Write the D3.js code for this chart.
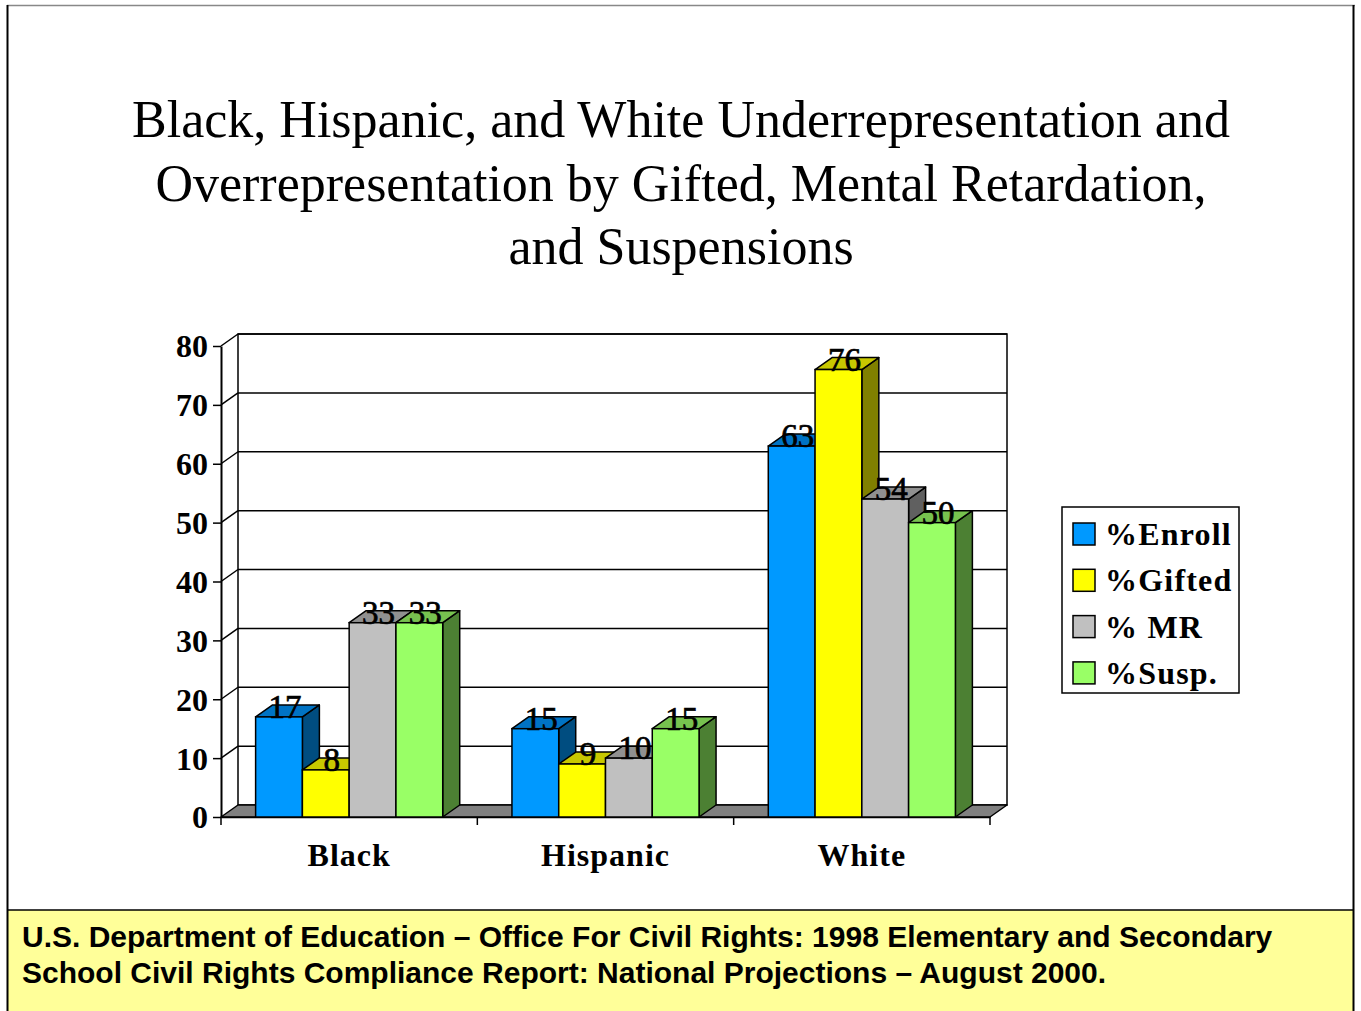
<!DOCTYPE html>
<html>
<head>
<meta charset="utf-8">
<script src="https://cdn.jsdelivr.net/npm/d3@7"></script>
<style>
  html, body { margin: 0; padding: 0; background: #fff; }
  svg { display: block; }
</style>
</head>
<body>
<svg id="chart" width="1361" height="1011"></svg>
<script>
// ---- data ----
const categories = ["Black", "Hispanic", "White"];
const series = ["%Enroll", "%Gifted", "% MR", "%Susp."];
const enroll = [17, 15, 63];
const gifted = [8, 9, 76];
const mr = [33, 10, 54];
const susp = [33, 15, 50];
const yTicks = [0, 10, 20, 30, 40, 50, 60, 70, 80];
const titleLines = [
  "Black, Hispanic, and White Underrepresentation and",
  "Overrepresentation by Gifted, Mental Retardation,",
  "and Suspensions"
];
const sourceLines = [
  "U.S. Department of Education \u2013 Office For Civil Rights: 1998 Elementary and Secondary",
  "School Civil Rights Compliance Report: National Projections \u2013 August 2000."
];

const seriesValues = [enroll, gifted, mr, susp];
// front, top, side shades per series
const palette = [
  { front: "#0099FF", top: "#0073C4", side: "#004D80" },
  { front: "#FFFF00", top: "#C8C800", side: "#808000" },
  { front: "#C0C0C0", top: "#909090", side: "#606060" },
  { front: "#99FF66", top: "#77C24F", side: "#4C8033" }
];

const svg = d3.select("#chart");
const W = 1361, H = 1011;
const serif = "'Liberation Serif', 'Times New Roman', serif";
const sans = "'Liberation Sans', Arial, sans-serif";

// ---- slide frame ----
svg.append("rect").attr("x", 0).attr("y", 0).attr("width", W).attr("height", H).attr("fill", "#fff");
svg.append("rect").attr("x", 8).attr("y", 910).attr("width", 1346).attr("height", H - 910)
  .attr("fill", "#FFFF99");
svg.append("line").attr("x1", 8).attr("x2", 1354).attr("y1", 910).attr("y2", 910)
  .attr("stroke", "#000").attr("stroke-width", 1.5);
svg.append("line").attr("x1", 7).attr("x2", 1355).attr("y1", 5.5).attr("y2", 5.5)
  .attr("stroke", "#888").attr("stroke-width", 1.5);
svg.append("line").attr("x1", 7.5).attr("x2", 7.5).attr("y1", 5).attr("y2", H)
  .attr("stroke", "#000").attr("stroke-width", 2);
svg.append("line").attr("x1", 1353.5).attr("x2", 1353.5).attr("y1", 5).attr("y2", H)
  .attr("stroke", "#000").attr("stroke-width", 2);

// ---- title ----
svg.append("text")
  .attr("text-anchor", "middle")
  .attr("font-family", serif)
  .attr("font-size", 52)
  .attr("fill", "#000")
  .selectAll("tspan").data(titleLines).join("tspan")
  .attr("x", 681)
  .attr("y", (d, i) => 137 + i * 63.5)
  .text(d => d);

// ---- scales ----
const DX = 17, DY = -12;
const y = d3.scaleLinear().domain([0, 80]).range([817, 346]);
const x0 = d3.scaleBand().domain(categories).range([221, 990]);
const x1 = d3.scaleBand().domain(series).range([0, x0.bandwidth()])
  .paddingInner(0).paddingOuter(0.74);

const plot = svg.append("g");
const xL = x0.range()[0], xR = x0.range()[1];
const yTop = y(80), yBot = y(0);

// back wall
plot.append("rect")
  .attr("x", xL + DX).attr("y", yTop + DY)
  .attr("width", xR - xL).attr("height", yBot - yTop)
  .attr("fill", "#fff").attr("stroke", "#000").attr("stroke-width", 1.5);

// gridlines on the back wall and the slanted side-wall lines
plot.selectAll(".grid").data(yTicks.filter(t => t > 0)).join("line")
  .attr("x1", xL + DX).attr("x2", xR + DX)
  .attr("y1", d => y(d) + DY).attr("y2", d => y(d) + DY)
  .attr("stroke", "#000").attr("stroke-width", 1.5);
plot.selectAll(".side").data(yTicks.filter(t => t > 0)).join("line")
  .attr("x1", xL).attr("x2", xL + DX)
  .attr("y1", d => y(d)).attr("y2", d => y(d) + DY)
  .attr("stroke", "#000").attr("stroke-width", 1.5);

// floor
plot.append("path")
  .attr("d", `M${xL},${yBot} L${xL + DX},${yBot + DY} L${xR + DX},${yBot + DY} L${xR},${yBot} Z`)
  .attr("fill", "#808080").attr("stroke", "#000").attr("stroke-width", 1.5)
  .attr("stroke-linejoin", "round");

// y axis
const yAxis = d3.axisLeft(y).tickValues(yTicks).tickSize(8).tickSizeOuter(0).tickPadding(5);
const gy = svg.append("g").attr("transform", `translate(${xL},0)`).call(yAxis);
gy.select(".domain").attr("stroke", "#000").attr("stroke-width", 2);
gy.selectAll(".tick line").attr("stroke", "#000").attr("stroke-width", 1.5);
gy.selectAll(".tick text")
  .attr("font-family", serif).attr("font-weight", "bold").attr("font-size", 32)
  .attr("fill", "#000").attr("dy", "0.34em");

// x axis: ticks at band boundaries, labels at band centres
const boundaries = [xL].concat(categories.map(c => x0(c) + x0.bandwidth()));
svg.selectAll(".xtick").data(boundaries).join("line")
  .attr("x1", d => d).attr("x2", d => d)
  .attr("y1", yBot).attr("y2", yBot + 8)
  .attr("stroke", "#000").attr("stroke-width", 1.5);
const xAxis = d3.axisBottom(x0).tickSize(0).tickPadding(0);
const gx = svg.append("g").attr("transform", `translate(0,${yBot})`).call(xAxis);
gx.select(".domain").attr("stroke", "#000").attr("stroke-width", 1.5);
gx.selectAll(".tick text")
  .attr("font-family", serif).attr("font-weight", "bold").attr("font-size", 32)
  .attr("letter-spacing", 1)
  .attr("fill", "#000").attr("dy", 0).attr("y", 49);

// ---- bars (painted left to right so each front face hides the neighbour's side) ----
const bw = x1.bandwidth();
const barsG = svg.append("g");
categories.forEach((cat, ci) => {
  series.forEach((s, si) => {
    const v = seriesValues[si][ci];
    const bx = x0(cat) + x1(s);
    const by = y(v);
    const c = palette[si];
    const g = barsG.append("g");
    // side face
    g.append("path")
      .attr("d", `M${bx + bw},${yBot} L${bx + bw + DX},${yBot + DY} L${bx + bw + DX},${by + DY} L${bx + bw},${by} Z`)
      .attr("fill", c.side).attr("stroke", "#000").attr("stroke-width", 1.5).attr("stroke-linejoin", "round");
    // top face
    g.append("path")
      .attr("d", `M${bx},${by} L${bx + DX},${by + DY} L${bx + bw + DX},${by + DY} L${bx + bw},${by} Z`)
      .attr("fill", c.top).attr("stroke", "#000").attr("stroke-width", 1.5).attr("stroke-linejoin", "round");
    // front face
    g.append("rect")
      .attr("x", bx).attr("y", by).attr("width", bw).attr("height", yBot - by)
      .attr("fill", c.front).attr("stroke", "#000").attr("stroke-width", 1.5);
    // value label
    g.append("text")
      .attr("x", bx + bw / 2 + 6).attr("y", by + 1)
      .attr("text-anchor", "middle")
      .attr("font-family", serif).attr("font-size", 33).attr("fill", "#000")
      .attr("stroke", "#000").attr("stroke-width", 0.7)
      .text(v);
  });
});

// ---- legend ----
const legend = svg.append("g");
legend.append("rect")
  .attr("x", 1062).attr("y", 507).attr("width", 177).attr("height", 186)
  .attr("fill", "#fff").attr("stroke", "#000").attr("stroke-width", 1.5);
const items = legend.selectAll(".item").data(series).join("g")
  .attr("transform", (d, i) => `translate(1073,${523 + i * 46.3})`);
items.append("rect")
  .attr("width", 22).attr("height", 22)
  .attr("fill", (d, i) => palette[i].front)
  .attr("stroke", "#000").attr("stroke-width", 1.5);
items.append("text")
  .attr("x", 32).attr("y", 22)
  .attr("font-family", serif).attr("font-weight", "bold").attr("font-size", 32)
  .attr("letter-spacing", 1.2)
  .attr("fill", "#000")
  .text(d => d);

// ---- source note ----
svg.append("text")
  .attr("font-family", sans).attr("font-weight", "bold").attr("font-size", 30)
  .attr("fill", "#000")
  .selectAll("tspan").data(sourceLines).join("tspan")
  .attr("x", 22)
  .attr("y", (d, i) => 947 + i * 36)
  .text(d => d);
</script>
</body>
</html>
